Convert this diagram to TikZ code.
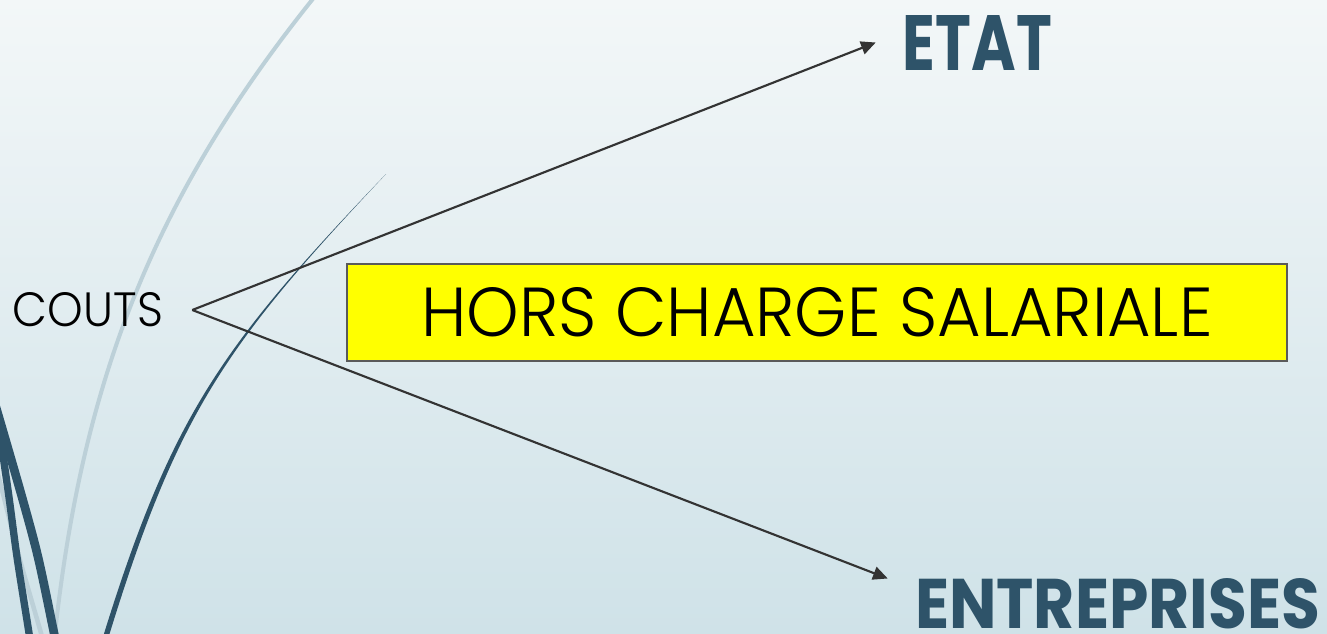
\documentclass[tikz,border=0pt]{standalone}
\usepackage{graphicx}
\usepackage{fontspec}
\setmainfont{Poppins}
\newfontfamily\lightface{Poppins Light}
\usetikzlibrary{arrows.meta}
\definecolor{bgtop}{HTML}{F3F7F8}
\definecolor{bgbot}{HTML}{CFE2E8}
\definecolor{slate}{HTML}{2E5369}
\definecolor{pale}{HTML}{BCD0D8}
\definecolor{arrowgray}{HTML}{333333}
\definecolor{boxedge}{HTML}{5A5A5A}
\definecolor{hlyellow}{HTML}{FFFF00}
\begin{document}
\begin{tikzpicture}[x=0.75pt,y=-0.75pt,
  conn/.style={draw=arrowgray,line width=1.6pt,-{Triangle[length=11pt,width=10pt]}},
  plaintext/.style={font=\lightface,inner ysep=0pt,inner xsep=21.75pt},
  headword/.style={text=slate,font=\bfseries,inner ysep=0pt,inner xsep=20.25pt},
  hlbox/.style={fill=hlyellow,draw=boxedge,line width=1pt,font=\lightface,minimum width=705pt,minimum height=72.75pt,inner sep=0pt},
  palecurve/.style={draw=pale},
  darkcurve/.style={draw=slate}]
\useasboundingbox (0,0) rectangle (1327,633);
\clip (0,0) rectangle (1327,633);
\shade[top color=bgtop,bottom color=bgbot] (0,0) rectangle (1327,633);
% background swooshes
\draw[palecurve,line width=3pt] (318,-8) -- (312,0) .. controls (152,200) and (82.5,383) .. (55,633) -- (53,660);
\draw[palecurve,line width=3.4pt] plot[smooth] coordinates {(-6,460) (2,490) (20,560) (41,633) (48,660)};
\draw[darkcurve,line width=5.5pt] plot[smooth] coordinates {(-8,380) (8,490) (17,557) (29,633) (33,660)};
\draw[darkcurve,line width=6.5pt] plot[smooth] coordinates {(-12,380) (20,490) (38,557) (54,633) (59,660)};
\fill[slate] (386,174) .. controls (223.3,344) and (172.7,413) .. (104.2,633) -- (101,645)
  -- (107,645) -- (109.8,633) .. controls (177.7,413) and (225.7,344) .. (386,174) -- cycle;
% content
\node[plaintext] (couts) at (88,310) {\resizebox{112.5pt}{25.5pt}{COUTS}};
\node[hlbox] (hors) at (817,312.5) {\resizebox{593.25pt}{36.75pt}{HORS CHARGE SALARIALE}};
\node[headword] (etat) at (977.5,42.5) {\resizebox{111.75pt}{41.25pt}{ETAT}};
\node[headword] (entr) at (1117.5,604) {\resizebox{303.75pt}{37.5pt}{ENTREPRISES}};
\draw[conn] (couts.east) -- (etat.west);
\draw[conn] (couts.east) -- (entr.north west);
\end{tikzpicture}
\end{document}
